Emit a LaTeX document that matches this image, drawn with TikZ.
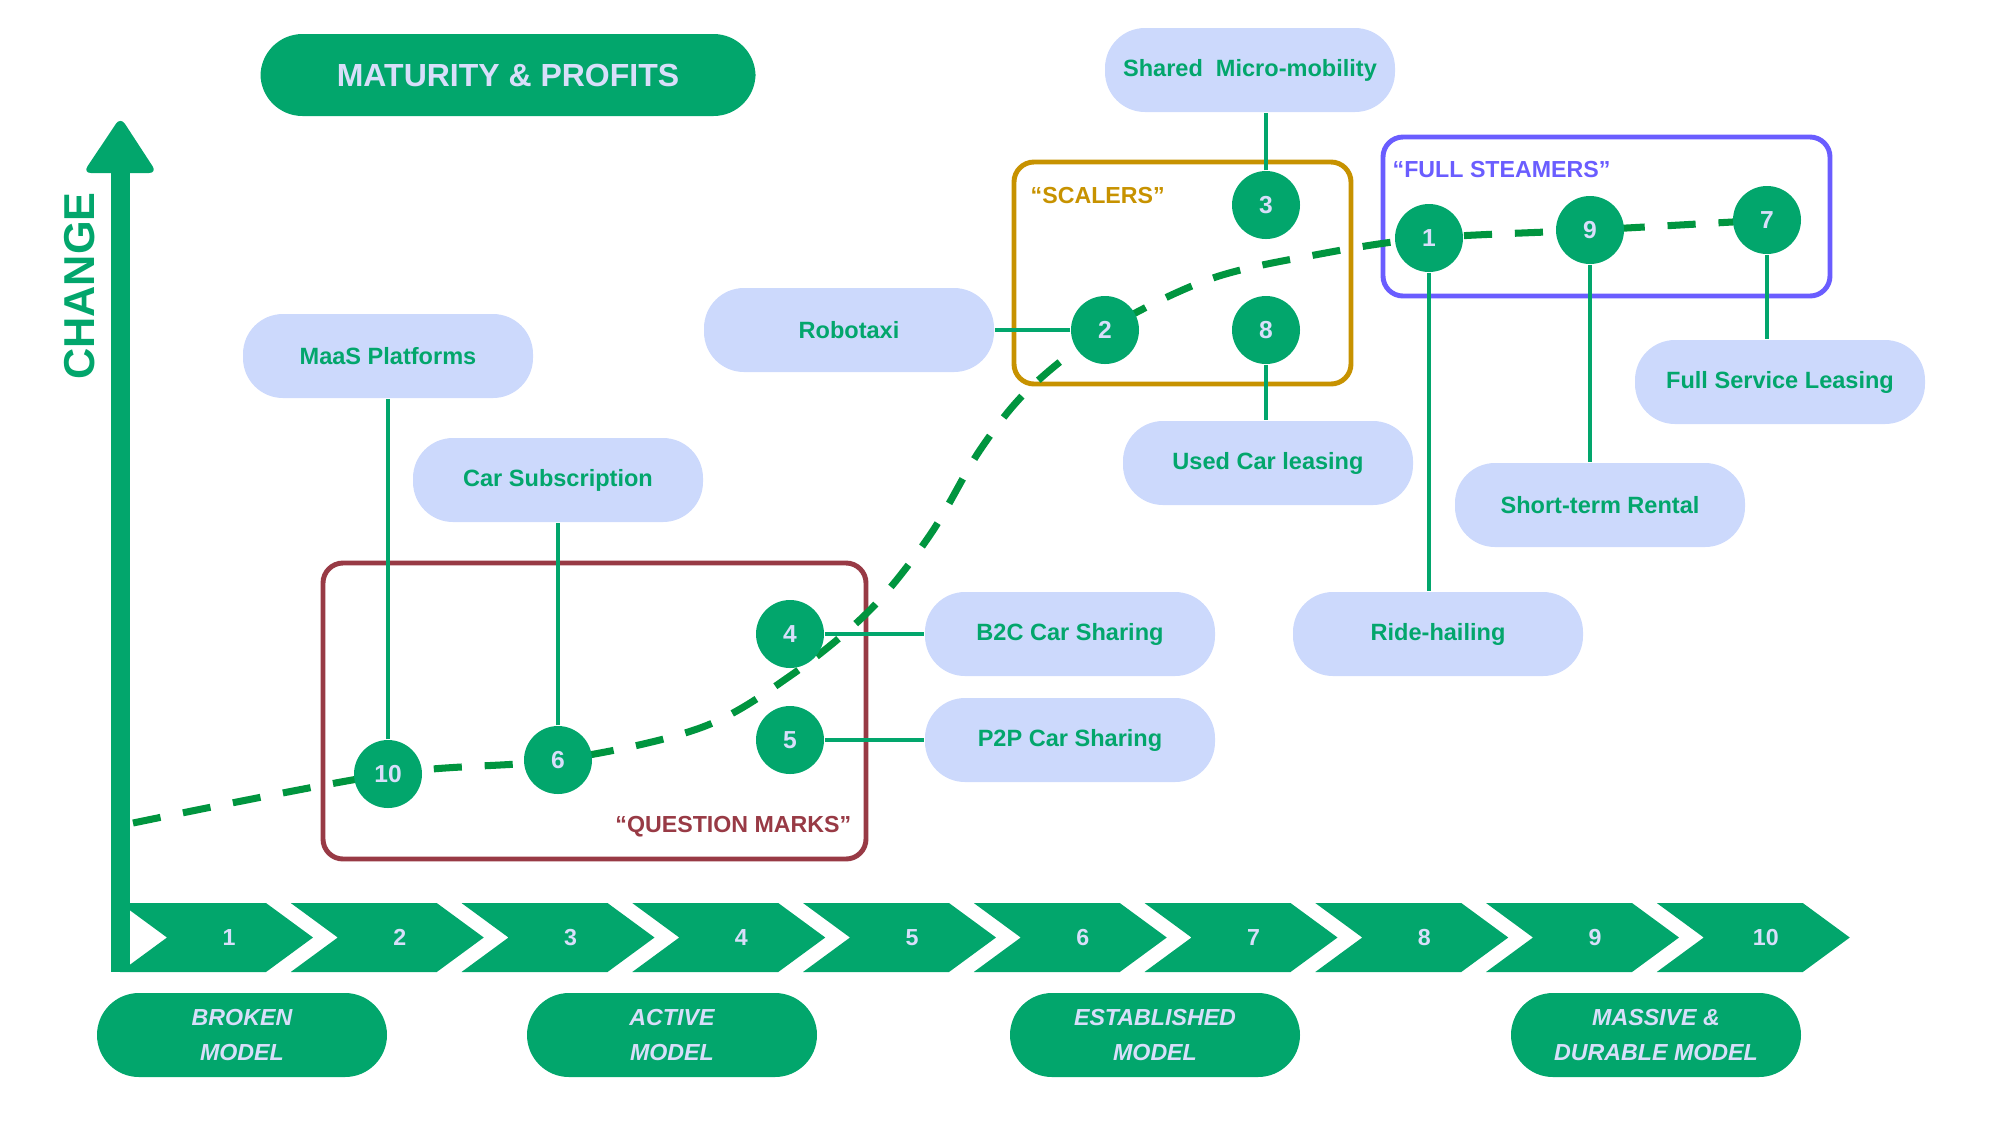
\documentclass[tikz,border=0pt]{standalone}
\usepackage{fontspec}
\setmainfont{Liberation Sans}
\usetikzlibrary{backgrounds}

\definecolor{verde}{HTML}{02A66C}
\definecolor{verdeosc}{HTML}{00953F}
\definecolor{celeste}{HTML}{CCD9FC}
\definecolor{lila}{HTML}{D8DEFA}
\definecolor{granate}{HTML}{983A45}
\definecolor{ocre}{HTML}{C79200}
\definecolor{violeta}{HTML}{6A5DFF}

\tikzset{
  etapa/.style={circle, fill=verde, text=lila, minimum size=6.8mm, inner sep=0pt,
    font=\fontsize{7}{8}\selectfont\bfseries},
  pastilla/.style={rounded corners=4mm, fill=celeste, text=verde, minimum width=29mm,
    minimum height=8.4mm, font=\fontsize{6.7}{8}\selectfont\bfseries},
  fase/.style={rounded corners=4.2mm, fill=verde, text=lila, minimum width=29mm,
    minimum height=8.4mm, align=center, font=\fontsize{6.6}{9.7}\selectfont\bfseries\itshape},
  paso/.style={text=lila, font=\fontsize{6.6}{8}\selectfont\bfseries},
  enlace/.style={verde, line width=1pt},
  grupo/.style={rounded corners=2mm, line width=1.4pt},
  rotulo/.style={inner sep=0pt, font=\fontsize{6.6}{8}\selectfont\bfseries},
  tendencia/.style={verdeosc, line width=2pt, dash pattern=on 8pt off 6.5pt}
}

\begin{document}
\begin{tikzpicture}
\useasboundingbox (0,0) rectangle (20,-11.25);

% Flechas de pasos
\foreach \i in {1,...,10} {
  \pgfmathsetmacro{\xa}{1.20+(\i-1)*1.7075}
  \fill [verde] (\xa,-9.03) -- ++(1.46,0) -- ++(0.47,-0.345) -- ++(-0.47,-0.345)
    -- ++(-1.46,0) -- ++(0.47,0.345) -- cycle;
  \node [paso] (p\i) at ({\xa+1.09},-9.375) {\i};
}

% Eje vertical
\fill [verde] (1.11,-9.72) rectangle (1.30,-1.70);
\fill [verde, rounded corners=0.8mm] (0.83,-1.73) -- (1.205,-1.17) -- (1.57,-1.73) -- cycle;
\node [rotate=90, text=verde, font=\fontsize{12.3}{14}\selectfont\bfseries] (cambio) at (0.80,-2.86) {CHANGE};

% Titulo
\node [fase, font=\fontsize{9.1}{11}\selectfont\bfseries, minimum width=49.5mm, minimum height=8.2mm] (titulo) at (5.08,-0.75) {MATURITY \& PROFITS};

% Fases
\node [fase] (roto) at (2.42,-10.35) {BROKEN\\MODEL};
\node [fase] (activo) at (6.72,-10.35) {ACTIVE\\MODEL};
\node [fase] (estable) at (11.55,-10.35) {ESTABLISHED\\MODEL};
\node [fase] (masivo) at (16.56,-10.35) {MASSIVE \&\\DURABLE MODEL};

% Etapas
\node [etapa] (n10) at (3.88,-7.74) {10};
\node [etapa] (n6) at (5.58,-7.60) {6};
\node [etapa] (n4) at (7.90,-6.34) {4};
\node [etapa] (n5) at (7.90,-7.40) {5};
\node [etapa] (n2) at (11.05,-3.30) {2};
\node [etapa] (n8) at (12.66,-3.30) {8};
\node [etapa] (n3) at (12.66,-2.05) {3};
\node [etapa] (n1) at (14.29,-2.38) {1};
\node [etapa] (n9) at (15.90,-2.30) {9};
\node [etapa] (n7) at (17.67,-2.20) {7};

% Modelos
\node [pastilla] (maas) at (3.88,-3.56) {MaaS Platforms};
\node [pastilla] (subs) at (5.58,-4.80) {Car Subscription};
\node [pastilla] (robo) at (8.49,-3.30) {Robotaxi};
\node [pastilla] (micro) at (12.50,-0.70) {Shared\ \ Micro-mobility};
\node [pastilla] (usado) at (12.68,-4.63) {Used Car leasing};
\node [pastilla] (fsl) at (17.80,-3.82) {Full Service Leasing};
\node [pastilla] (corto) at (16.00,-5.05) {Short-term Rental};
\node [pastilla] (ride) at (14.38,-6.34) {Ride-hailing};
\node [pastilla] (b2c) at (10.70,-6.34) {B2C Car Sharing};
\node [pastilla] (p2p) at (10.70,-7.40) {P2P Car Sharing};

% Etiquetas de grupos
\node [rotulo, text=granate, anchor=east] (preg) at (8.52,-8.27) {“QUESTION MARKS”};
\node [rotulo, text=ocre, anchor=west] (esc) at (10.30,-1.96) {“SCALERS”};
\node [rotulo, text=violeta, anchor=west] (vapor) at (13.92,-1.70) {“FULL STEAMERS”};

\begin{scope}[on background layer]
% Grupos
\draw [grupo, granate] (3.23,-5.63) rectangle (8.66,-8.59);
\draw [grupo, ocre] (10.14,-1.62) rectangle (13.51,-3.84);
\draw [grupo, violeta] (13.83,-1.37) rectangle (18.30,-2.96);

% Curva
\draw [tendencia] plot [smooth, tension=0.55] coordinates {(1.33,-8.23) (n10.center) (n6.center)
  (7.00,-7.28) (7.90,-6.76) (8.70,-6.10) (9.30,-5.35) (9.80,-4.50) (10.30,-3.88) (n2.center)
  (12.10,-2.79) (13.20,-2.54) (n1.center) (n9.center) (n7.center)};

% Enlaces
\draw [enlace] (n10) -- (n10 |- maas.south);
\draw [enlace] (n6) -- (n6 |- subs.south);
\draw [enlace] (n4) -- (b2c);
\draw [enlace] (n5) -- (p2p);
\draw [enlace] (n2) -- (robo);
\draw [enlace] (n3) -- (n3 |- micro.south);
\draw [enlace] (n8) -- (n8 |- usado.north);
\draw [enlace] (n1) -- (n1 |- ride.north);
\draw [enlace] (n9) -- (n9 |- corto.north);
\draw [enlace] (n7) -- (n7 |- fsl.north);
\end{scope}
\end{tikzpicture}
\end{document}
